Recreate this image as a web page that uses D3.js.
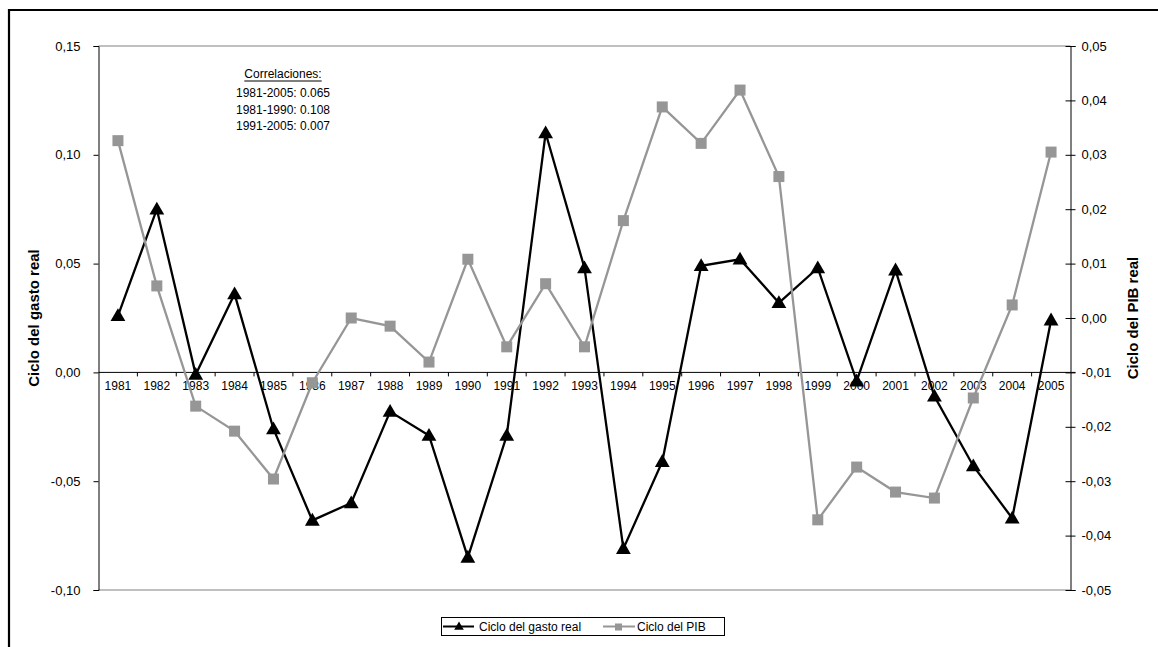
<!DOCTYPE html>
<html>
<head>
<meta charset="utf-8">
<script src="https://cdn.jsdelivr.net/npm/d3@7"></script>
<style>
  html, body { margin: 0; padding: 0; background: #fff; }
  svg { display: block; font-family: Arial, "Liberation Sans", sans-serif; }
</style>
</head>
<body>
<svg id="chart" width="1158" height="647"></svg>
<script>
// Years on the category axis
const years = ["1981","1982","1983","1984","1985","1986","1987","1988","1989","1990",
               "1991","1992","1993","1994","1995","1996","1997","1998","1999","2000",
               "2001","2002","2003","2004","2005"];

// Cycle of real public spending (left axis)
const cicloGasto = [0.026, 0.075, -0.001, 0.036, -0.026, -0.068, -0.060, -0.018, -0.029, -0.085,
                    -0.029, 0.110, 0.048, -0.081, -0.041, 0.049, 0.052, 0.032, 0.048, -0.004,
                    0.047, -0.011, -0.043, -0.067, 0.024];

// Cycle of real GDP (right axis)
const cicloPIB = [0.0326, 0.0059, -0.0162, -0.0208, -0.0296, -0.0119, 0.0000, -0.0015, -0.0081, 0.0108,
                  -0.0053, 0.0063, -0.0053, 0.0179, 0.0388, 0.0321, 0.0419, 0.0260, -0.0371, -0.0274,
                  -0.0320, -0.0331, -0.0147, 0.0024, 0.0305];

// Axis ticks
const leftTicks = [0.15, 0.10, 0.05, 0.00, -0.05, -0.10];
const rightTicks = [0.05, 0.04, 0.03, 0.02, 0.01, 0.00, -0.01, -0.02, -0.03, -0.04, -0.05];

// Correlation note
const correlTitle = "Correlaciones:";
const correlLines = ["1981-2005: 0.065", "1981-1990: 0.108", "1991-2005: 0.007"];

const seriesNames = ["Ciclo del gasto real", "Ciclo del PIB"];
const axisTitles = ["Ciclo del gasto real", "Ciclo del PIB real"];

const svg = d3.select("#chart");
const plot = { left: 98.5, right: 1070.5, top: 46, bottom: 590 };
const grey = "#969696";
const fmt = d3.formatLocale({ decimal: ",", thousands: ".", grouping: [3], currency: ["", ""], minus: "-" }).format(".2f");

const x = d3.scaleBand().domain(years).range([plot.left, plot.right]).padding(0);
const yL = d3.scaleLinear().domain([-0.10, 0.15]).range([plot.bottom, plot.top]);
const yR = d3.scaleLinear().domain([-0.05, 0.05]).range([plot.bottom, plot.top]);
const cx = d => x(d) + x.bandwidth() / 2;

// Outer frame
svg.append("path")
  .attr("d", "M9,647 L9,10 L1160,10")
  .attr("fill", "none").attr("stroke", "#000").attr("stroke-width", 2.2);

// Plot area border (top and bottom)
svg.append("line").attr("x1", plot.left).attr("x2", plot.right)
  .attr("y1", plot.top).attr("y2", plot.top).attr("stroke", "#808080").attr("stroke-width", 1);
svg.append("line").attr("x1", plot.left).attr("x2", plot.right)
  .attr("y1", plot.bottom).attr("y2", plot.bottom).attr("stroke", "#808080").attr("stroke-width", 1);

// Left axis
const gL = svg.append("g").attr("transform", `translate(${plot.left},0)`)
  .call(d3.axisLeft(yL).tickValues(leftTicks).tickFormat(fmt).tickSize(5).tickPadding(13));
gL.select(".domain").attr("stroke", "#000");
gL.selectAll("text").attr("font-size", 13).attr("font-family", "Arial, 'Liberation Sans', sans-serif").attr("fill", "#000");

// Right axis (ticks cross the axis line)
const gR = svg.append("g").attr("transform", `translate(${plot.right},0)`)
  .call(d3.axisRight(yR).tickValues(rightTicks).tickFormat(fmt).tickSize(5).tickPadding(6));
gR.select(".domain").attr("stroke", "#000");
gR.selectAll(".tick line").attr("x1", -5).attr("x2", 5);
gR.selectAll("text").attr("font-size", 13).attr("font-family", "Arial, 'Liberation Sans', sans-serif").attr("fill", "#000");

// Category axis at zero of the left scale
const gX = svg.append("g").attr("transform", `translate(0,${yL(0)})`)
  .call(d3.axisBottom(x).tickSize(0).tickPadding(9));
gX.select(".domain").attr("d", `M${plot.left},0H${plot.right + 5}`).attr("stroke", "#000");
gX.selectAll("text").attr("font-size", 12).attr("font-family", "Arial, 'Liberation Sans', sans-serif").attr("fill", "#000");
gX.selectAll(".tickmark").data(years.slice(1)).enter().append("line")
  .attr("x1", d => x(d)).attr("x2", d => x(d)).attr("y1", 0).attr("y2", 4)
  .attr("stroke", "#000");

// Axis titles
svg.append("text")
  .attr("transform", `translate(39,${(plot.top + plot.bottom) / 2}) rotate(-90)`)
  .attr("text-anchor", "middle").attr("font-size", 15).attr("font-weight", "bold")
  .text(axisTitles[0]);
svg.append("text")
  .attr("transform", `translate(1138,${(plot.top + plot.bottom) / 2}) rotate(-90)`)
  .attr("text-anchor", "middle").attr("font-size", 15).attr("font-weight", "bold")
  .text(axisTitles[1]);

// Series lines
const lineL = d3.line().x((d, i) => cx(years[i])).y(d => yL(d));
const lineR = d3.line().x((d, i) => cx(years[i])).y(d => yR(d));
const tri = d3.symbol().type(d3.symbolTriangle).size(95);

svg.append("path").datum(cicloGasto).attr("d", lineL)
  .attr("fill", "none").attr("stroke", "#000").attr("stroke-width", 2.3);
svg.append("g").selectAll("path").data(cicloGasto).enter().append("path")
  .attr("d", tri)
  .attr("transform", (d, i) => `translate(${cx(years[i])},${yL(d) + 1})`)
  .attr("fill", "#000");

svg.append("path").datum(cicloPIB).attr("d", lineR)
  .attr("fill", "none").attr("stroke", grey).attr("stroke-width", 2.3);
svg.append("g").selectAll("rect").data(cicloPIB).enter().append("rect")
  .attr("x", (d, i) => cx(years[i]) - 5.5).attr("y", d => yR(d) - 5.5)
  .attr("width", 11).attr("height", 11).attr("fill", grey);

// Correlation note
const note = svg.append("g").attr("font-size", 12).attr("text-anchor", "middle");
const tTitle = note.append("text").attr("x", 283).attr("y", 78).text(correlTitle);
const tw = tTitle.node().getComputedTextLength();
note.append("line").attr("x1", 283 - tw / 2).attr("x2", 283 + tw / 2)
  .attr("y1", 81).attr("y2", 81).attr("stroke", "#000").attr("stroke-width", 1.2);
note.selectAll(".cl").data(correlLines).enter().append("text")
  .attr("x", 283).attr("y", (d, i) => [97, 114, 130][i]).text(d => d);

// Legend
const leg = svg.append("g");
leg.append("rect").attr("x", 441.5).attr("y", 617.5).attr("width", 283).attr("height", 18)
  .attr("fill", "#fff").attr("stroke", "#000").attr("stroke-width", 1);
leg.append("line").attr("x1", 443).attr("x2", 474).attr("y1", 626.5).attr("y2", 626.5)
  .attr("stroke", "#000").attr("stroke-width", 2);
leg.append("path").attr("d", d3.symbol().type(d3.symbolTriangle).size(40))
  .attr("transform", "translate(459,627)").attr("fill", "#000");
leg.append("text").attr("x", 479).attr("y", 631).attr("font-size", 12).text(seriesNames[0]);
leg.append("line").attr("x1", 603).attr("x2", 635).attr("y1", 626.5).attr("y2", 626.5)
  .attr("stroke", grey).attr("stroke-width", 2);
leg.append("rect").attr("x", 615).attr("y", 623.5).attr("width", 7).attr("height", 7).attr("fill", grey);
leg.append("text").attr("x", 637).attr("y", 631).attr("font-size", 12).text(seriesNames[1]);
</script>
</body>
</html>
